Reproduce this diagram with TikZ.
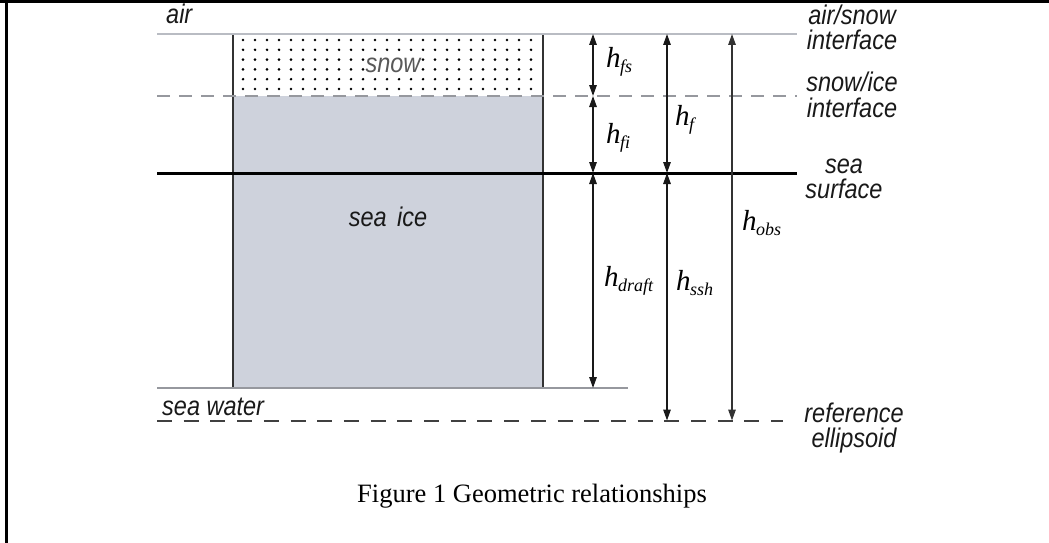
\documentclass[tikz,border=0pt]{standalone}
\usepackage{fontspec}
\usepackage{graphicx}
\setmainfont{Liberation Serif}
\newfontfamily\lsans{Liberation Sans}
\usetikzlibrary{arrows.meta}
\definecolor{icefill}{RGB}{206,210,220}
\definecolor{lightline}{RGB}{185,188,195}
\definecolor{midline}{RGB}{150,152,158}
\newcommand{\hsub}[1]{{\fontsize{29}{29}\selectfont\itshape h\kern-0.5pt\raisebox{-5pt}{\fontsize{18}{18}\selectfont #1}}}
\newcommand{\vs}[1]{\scalebox{1}[1.15]{#1}}
\begin{document}
\begin{tikzpicture}[x=1pt,y=-1pt,
  lab/.style={font=\lsans\itshape\fontsize{23.5}{25}\selectfont, inner sep=0pt, text=black!90},
  rlab/.style={lab, align=center, anchor=base},
  dimarrow/.style={line width=1.4pt, draw=black!90, {Triangle[length=11pt,width=7.5pt]}-{Triangle[length=11pt,width=7.5pt]}},
  hlab/.style={inner sep=0pt, anchor=base west}]
\useasboundingbox (0,0) rectangle (1049,543);
% frame
\draw[line width=3pt] (0,1.5) -- (1049,1.5);
\draw[line width=2.6pt] (6.5,0) -- (6.5,543);
% ice block
\fill[icefill] (233,96) rectangle (543,388);
% snow dots
\foreach \i in {0,...,24}{
  \foreach \j in {0,...,5}{
    \fill[black] ({243+12*\i},{40+9.8*\j}) circle (1.45pt);
  }
}
\node[lab, fill=white, inner sep=1pt, text=black!65, anchor=base] (snow) at (393,72) {\vs{snow}};
\draw[line width=1.4pt, draw=black!80] (233,34) -- (233,388) (543,34) -- (543,388);
% level lines
\draw[lightline, line width=2pt] (157,34) -- (797,34);
\draw[midline, line width=1.3pt, dash pattern=on 13pt off 9pt] (157,96) -- (797,96);
\draw[black, line width=3pt] (157,173) -- (797,173);
\draw[midline, line width=2pt] (157,388) -- (628,388);
\draw[black!75, line width=2pt, dash pattern=on 15pt off 11.7pt] (157,420.5) -- (783,420.5);
% labels
\node[lab, anchor=base west] (air) at (166,24) {\vs{air}};
\node[lab, anchor=base west] (water) at (162,415) {\vs{sea water}};
\node[lab, anchor=base] (seaice) at (388,226) {\vs{sea\, ice}};
\node[rlab] (l1) at (852,50) {\vs{air/snow}\\\vs{interface}};
\node[rlab] (l2) at (852,117) {\vs{snow/ice}\\\vs{interface}};
\node[rlab] (l3) at (844,198) {\vs{sea}\\\vs{surface}};
\node[rlab] (l4) at (854,447) {\vs{reference}\\\vs{ellipsoid}};
% dimension coordinates
\coordinate (a1) at (593,34);
\coordinate (a2) at (593,96);
\coordinate (a3) at (593,173);
\coordinate (a4) at (593,388);
\coordinate (b1) at (667,34);
\coordinate (b2) at (667,173);
\coordinate (b3) at (667,420.5);
\coordinate (c1) at (732,34);
\coordinate (c2) at (732,420.5);
\draw[dimarrow] (a1) -- (a2);
\draw[dimarrow] (a2) -- (a3);
\draw[dimarrow] (a3) -- (a4);
\draw[dimarrow] (b1) -- (b2);
\draw[dimarrow] (b2) -- (b3);
\draw[dimarrow, draw=black!80] (c1) -- (c2);
% dimension labels
\node[hlab] (hfs) at (606,67) {\hsub{fs}};
\node[hlab] (hfi) at (606,143) {\hsub{fi}};
\node[hlab] (hf) at (675,125) {\hsub{f}};
\node[hlab] (hdraft) at (604,286) {\hsub{draft}};
\node[hlab] (hssh) at (676,290) {\hsub{ssh}};
\node[hlab] (hobs) at (742,230) {\hsub{obs}};
% caption
\node[inner sep=0pt, anchor=base, font=\fontsize{26.5}{28}\selectfont] (cap) at (532,502) {Figure 1 Geometric relationships};
\end{tikzpicture}
\end{document}
